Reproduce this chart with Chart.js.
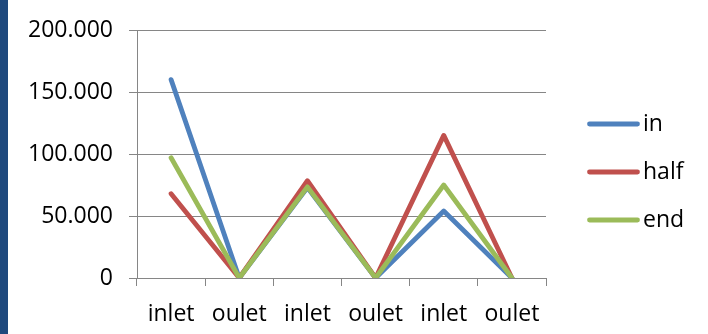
<!DOCTYPE html>
<html>
<head>
<meta charset="utf-8">
<script src="https://cdn.jsdelivr.net/npm/chart.js@4/dist/chart.umd.min.js"></script>
<style>
  html, body { margin: 0; padding: 0; background: #ffffff; }
  #wrap { position: relative; width: 708px; height: 334px; }
  #strip { position: absolute; left: 0; top: 0; width: 8px; height: 334px; background: #1f497d; }
  #chart { position: absolute; left: 0; top: 0; }
</style>
</head>
<body>
<div id="wrap">
  <div id="strip"></div>
  <canvas id="chart" width="708" height="334"></canvas>
</div>
<script>
// Sampling points along the line
const categories = ['inlet', 'oulet', 'inlet', 'oulet', 'inlet', 'oulet'];

// Measured values per stage
const inValues   = [160000, 0, 73000, 0, 54000, 0];
const halfValues = [68000, 0, 78500, 0, 115000, 0];
const endValues  = [97000, 0, 73500, 0, 75000, 0];

const seriesNames = ['in', 'half', 'end'];
const seriesColors = ['#4f81bd', '#c0504d', '#9bbb59'];

// Y axis range and tick spacing
const yMin = 0;
const yMax = 200000;
const yStep = 50000;

const FONT = '"Open Sans", "Liberation Sans", sans-serif';
const GRID = '#868686';

// Thousands separated with a dot: 150000 -> "150.000"
function dotThousands(v) {
  return String(Math.round(v)).replace(/\B(?=(\d{3})+(?!\d))/g, '.');
}

// Legend drawn at the right: a short thick line followed by the series name
const sideLegend = {
  id: 'sideLegend',
  afterDraw(chart) {
    const ctx = chart.ctx;
    const rows = [124, 172, 220];
    ctx.save();
    chart.data.datasets.forEach((ds, i) => {
      const y = rows[i];
      ctx.beginPath();
      ctx.strokeStyle = ds.borderColor;
      ctx.lineWidth = ds.borderWidth;
      ctx.lineCap = 'round';
      ctx.moveTo(589.5, y);
      ctx.lineTo(637.5, y);
      ctx.stroke();
      ctx.fillStyle = '#000000';
      ctx.font = '23px ' + FONT;
      ctx.textBaseline = 'middle';
      ctx.textAlign = 'left';
      ctx.fillText(ds.label, 643, y);
    });
    ctx.restore();
  }
};

const values = [inValues, halfValues, endValues];
const datasets = values.map((data, i) => ({
  label: seriesNames[i],
  data: data,
  borderColor: seriesColors[i],
  backgroundColor: seriesColors[i],
  borderWidth: 4.8,
  borderCapStyle: 'round',
  borderJoinStyle: 'round',
  pointRadius: 0,
  pointHoverRadius: 0,
  tension: 0,
  fill: false,
  order: 3 - i
}));

new Chart(document.getElementById('chart'), {
  type: 'line',
  data: { labels: categories, datasets: datasets },
  options: {
    responsive: false,
    animation: false,
    events: [],
    layout: { padding: { left: 0, top: 30, right: 162, bottom: 0 } },
    plugins: {
      legend: { display: false },
      tooltip: { enabled: false },
      title: { display: false }
    },
    scales: {
      x: {
        type: 'category',
        offset: true,
        grid: {
          offset: true,
          drawOnChartArea: false,
          drawTicks: true,
          tickLength: 8,
          color: GRID,
          lineWidth: 1
        },
        border: { display: true, color: GRID, width: 1 },
        ticks: {
          color: '#000000',
          font: { family: FONT, size: 23 },
          padding: 15,
          maxRotation: 0,
          autoSkip: false
        },
        afterFit(scale) { scale.height = 56; }
      },
      y: {
        min: yMin,
        max: yMax,
        grid: {
          color: GRID,
          lineWidth: 1,
          drawTicks: true,
          tickLength: 8
        },
        border: { display: true, color: GRID, width: 1 },
        ticks: {
          stepSize: yStep,
          color: '#000000',
          font: { family: FONT, size: 23 },
          padding: 16,
          callback: (v) => dotThousands(v)
        },
        afterFit(scale) { scale.width = 137; }
      }
    }
  },
  plugins: [sideLegend]
});
</script>
</body>
</html>
